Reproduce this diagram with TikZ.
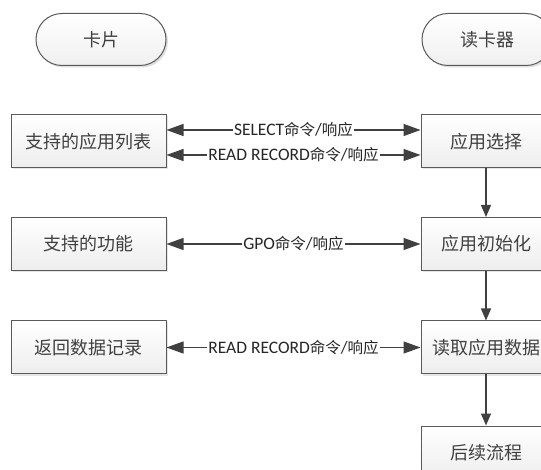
\documentclass[tikz,border=0pt]{standalone}
\usepackage{fontspec}
\setmainfont{Carlito}
\newfontfamily\cjk{Noto Sans CJK SC}
\usetikzlibrary{arrows.meta,shadows}
\definecolor{linec}{HTML}{404040}
\definecolor{boxc}{HTML}{5A5A5A}
\definecolor{txtc}{HTML}{404040}
\newcommand{\zh}[1]{{\fontsize{15.5}{17}\selectfont\cjk #1}}
\tikzset{
  term/.style={draw=boxc, line width=1pt, rounded corners=26pt, minimum width=130pt, minimum height=52pt,
    top color=white, bottom color=gray!12, drop shadow={shadow xshift=2pt, shadow yshift=-2pt, opacity=0.25},
    font=\fontsize{18}{20}\selectfont\cjk, text=txtc, inner sep=0pt},
  lbox/.style={draw=boxc, line width=1pt, minimum width=155pt, minimum height=53pt,
    top color=white, bottom color=gray!14, drop shadow={shadow xshift=1.5pt, shadow yshift=-1.5pt, opacity=0.2},
    font=\fontsize{18}{20}\selectfont\cjk, text=txtc, inner sep=0pt},
  rbox/.style={lbox, minimum width=130pt},
  conn/.style={draw=linec, line width=1.3pt, {Triangle[length=17pt,width=12pt]}-{Triangle[length=17pt,width=12pt]}},
  flow/.style={draw=linec, line width=1.3pt, -{Triangle[length=12pt,width=10pt]}},
  lab/.style={fill=white, inner sep=1pt, font=\fontsize{17.5}{19}\selectfont, text=black!85}
}
\begin{document}
\begin{tikzpicture}[x=1pt,y=-1pt]
\clip (0,0) rectangle (541,470);
\fill[white] (0,0) rectangle (541,470);
\node[term] (card) at (101,39.5) {卡片};
\node[term] (reader) at (487,39.5) {读卡器};
\node[lbox] (l1) at (88.5,141.5) {支持的应用列表};
\node[lbox] (l2) at (88.5,244) {支持的功能};
\node[lbox] (l3) at (88.5,347.5) {返回数据记录};
\node[rbox] (r1) at (486,141.5) {应用选择};
\node[rbox] (r2) at (486,244) {应用初始化};
\node[rbox] (r3) at (486,347.5) {读取应用数据};
\node[rbox] (r4) at (486,452.5) {后续流程};
\draw[conn] (l1.east |- 0,130) -- node[lab] {SELECT\zh{命令}/\zh{响应}} (r1.west |- 0,130);
\draw[conn] (l1.east |- 0,155) -- node[lab] {READ RECORD\zh{命令}/\zh{响应}} (r1.west |- 0,155);
\draw[conn] (l2.east) -- node[lab] {GPO\zh{命令}/\zh{响应}} (r2.west);
\draw[conn] (l3.east) -- node[lab] {READ RECORD\zh{命令}/\zh{响应}} (r3.west);
\draw[flow] (r1.south) -- (r2.north);
\draw[flow] (r2.south) -- (r3.north);
\draw[flow] (r3.south) -- (r4.north);
\end{tikzpicture}
\end{document}
